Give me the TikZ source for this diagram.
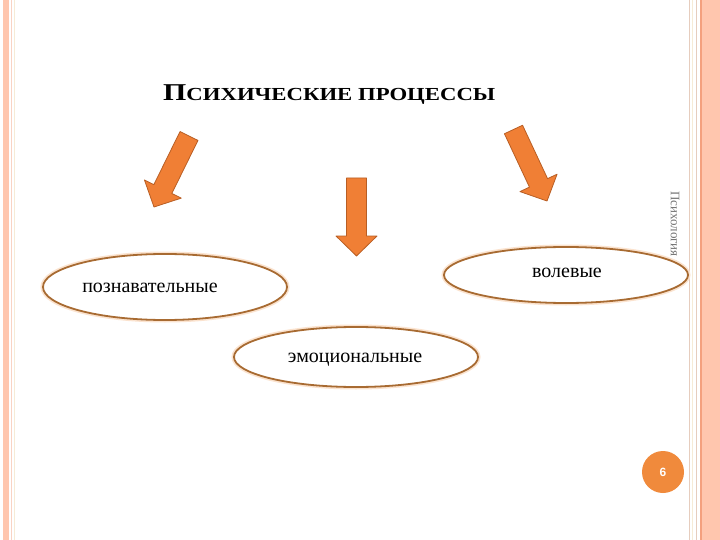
\documentclass[tikz,border=0pt]{standalone}
\usepackage{fontspec}
\setmainfont{Liberation Serif}
\newfontfamily\numfont{Liberation Sans}
\usetikzlibrary{calc}
\definecolor{arrfill}{HTML}{F07F35}
\definecolor{arrline}{HTML}{B85E24}
\definecolor{ellline}{HTML}{A86B32}
\definecolor{glowc}{HTML}{FBE3CF}
\definecolor{peach}{HTML}{FFC6AE}
\definecolor{peachdark}{HTML}{F4A07E}
\definecolor{lineA}{HTML}{F9D3C4}
\definecolor{lineB}{HTML}{F6EBD6}
\definecolor{lineC}{HTML}{E6CDBE}
\definecolor{pgfill}{HTML}{F08A3C}
\tikzset{
  arr/.style={fill=arrfill, draw=arrline, line width=0.8pt, line join=round},
  ell/.style={draw=ellline, fill=white, line width=1.8pt},
  glow/.style={draw=glowc, line width=5pt},
  lbl/.style={font=\fontsize{20}{20}\selectfont, inner sep=0pt}
}
\newcommand\orarrow[4]{%
  \coordinate (T) at (#1,#2);
  \coordinate (P) at (#3,#4);
  \coordinate (B) at ($(P)!20pt!(T)$);
  \filldraw[arr] ($(T)!10pt!90:(P)$) -- ($(B)!10pt!90:(P)$) -- ($(B)!20.5pt!90:(P)$) -- (P)
    -- ($(B)!20.5pt!-90:(P)$) -- ($(B)!10pt!-90:(P)$) -- ($(T)!10pt!-90:(P)$) -- cycle;}
\begin{document}
\begin{tikzpicture}[x=1pt,y=-1pt]
\useasboundingbox (0,0) rectangle (720,540);
\fill[white] (0,0) rectangle (720,540);
% left border
\fill[peach] (3,0) rectangle (9,540);
\draw[lineA, line width=1pt] (11,0) -- (11,540);
\draw[lineB, line width=1pt] (14,0) -- (14,540);
% right border
\draw[lineC, line width=1pt] (689,0) -- (689,540);
\draw[lineB, line width=1pt] (692,0) -- (692,540);
\draw[lineC, line width=1.2pt] (696.5,0) -- (696.5,540);
\fill[peach] (701,0) rectangle (720,540);
\draw[peachdark, line width=1.2pt] (701,0) -- (701,540);
% title
\node[anchor=base west, inner sep=0pt, font=\bfseries] (title) at (163,101)
  {\scalebox{1.3}[1.05]{\fontsize{23}{23}\selectfont П\fontsize{17.5}{17.5}\selectfont СИХИЧЕСКИЕ ПРОЦЕССЫ}};
% arrows
\orarrow{189}{136}{154}{207}
\orarrow{356.5}{178}{356.5}{256}
\orarrow{513.5}{129.5}{547}{201}
% ellipses
\draw[glow] (165,287) ellipse [x radius=122, y radius=33];
\draw[ell] (165,287) ellipse [x radius=122, y radius=33];
\draw[glow] (566,275) ellipse [x radius=122, y radius=28];
\draw[ell] (566,275) ellipse [x radius=122, y radius=28];
\draw[glow] (356,357) ellipse [x radius=122, y radius=30];
\draw[ell] (356,357) ellipse [x radius=122, y radius=30];
\node[lbl] (cog) at (150,288) {познавательные};
\node[lbl] (vol) at (567,273) {волевые};
\node[lbl] (emo) at (355,360) {эмоциональные};
% vertical text
\node[rotate=-90, text=gray!90!black, inner sep=0pt, font=\fontsize{13}{13}\selectfont] (vt) at (675,224) {Психология};
% page number
\node[circle, fill=pgfill, minimum size=42pt, inner sep=0pt, text=white,
  font=\numfont\bfseries\fontsize{12}{12}\selectfont] (pg) at (663,472) {6};
\end{tikzpicture}
\end{document}
